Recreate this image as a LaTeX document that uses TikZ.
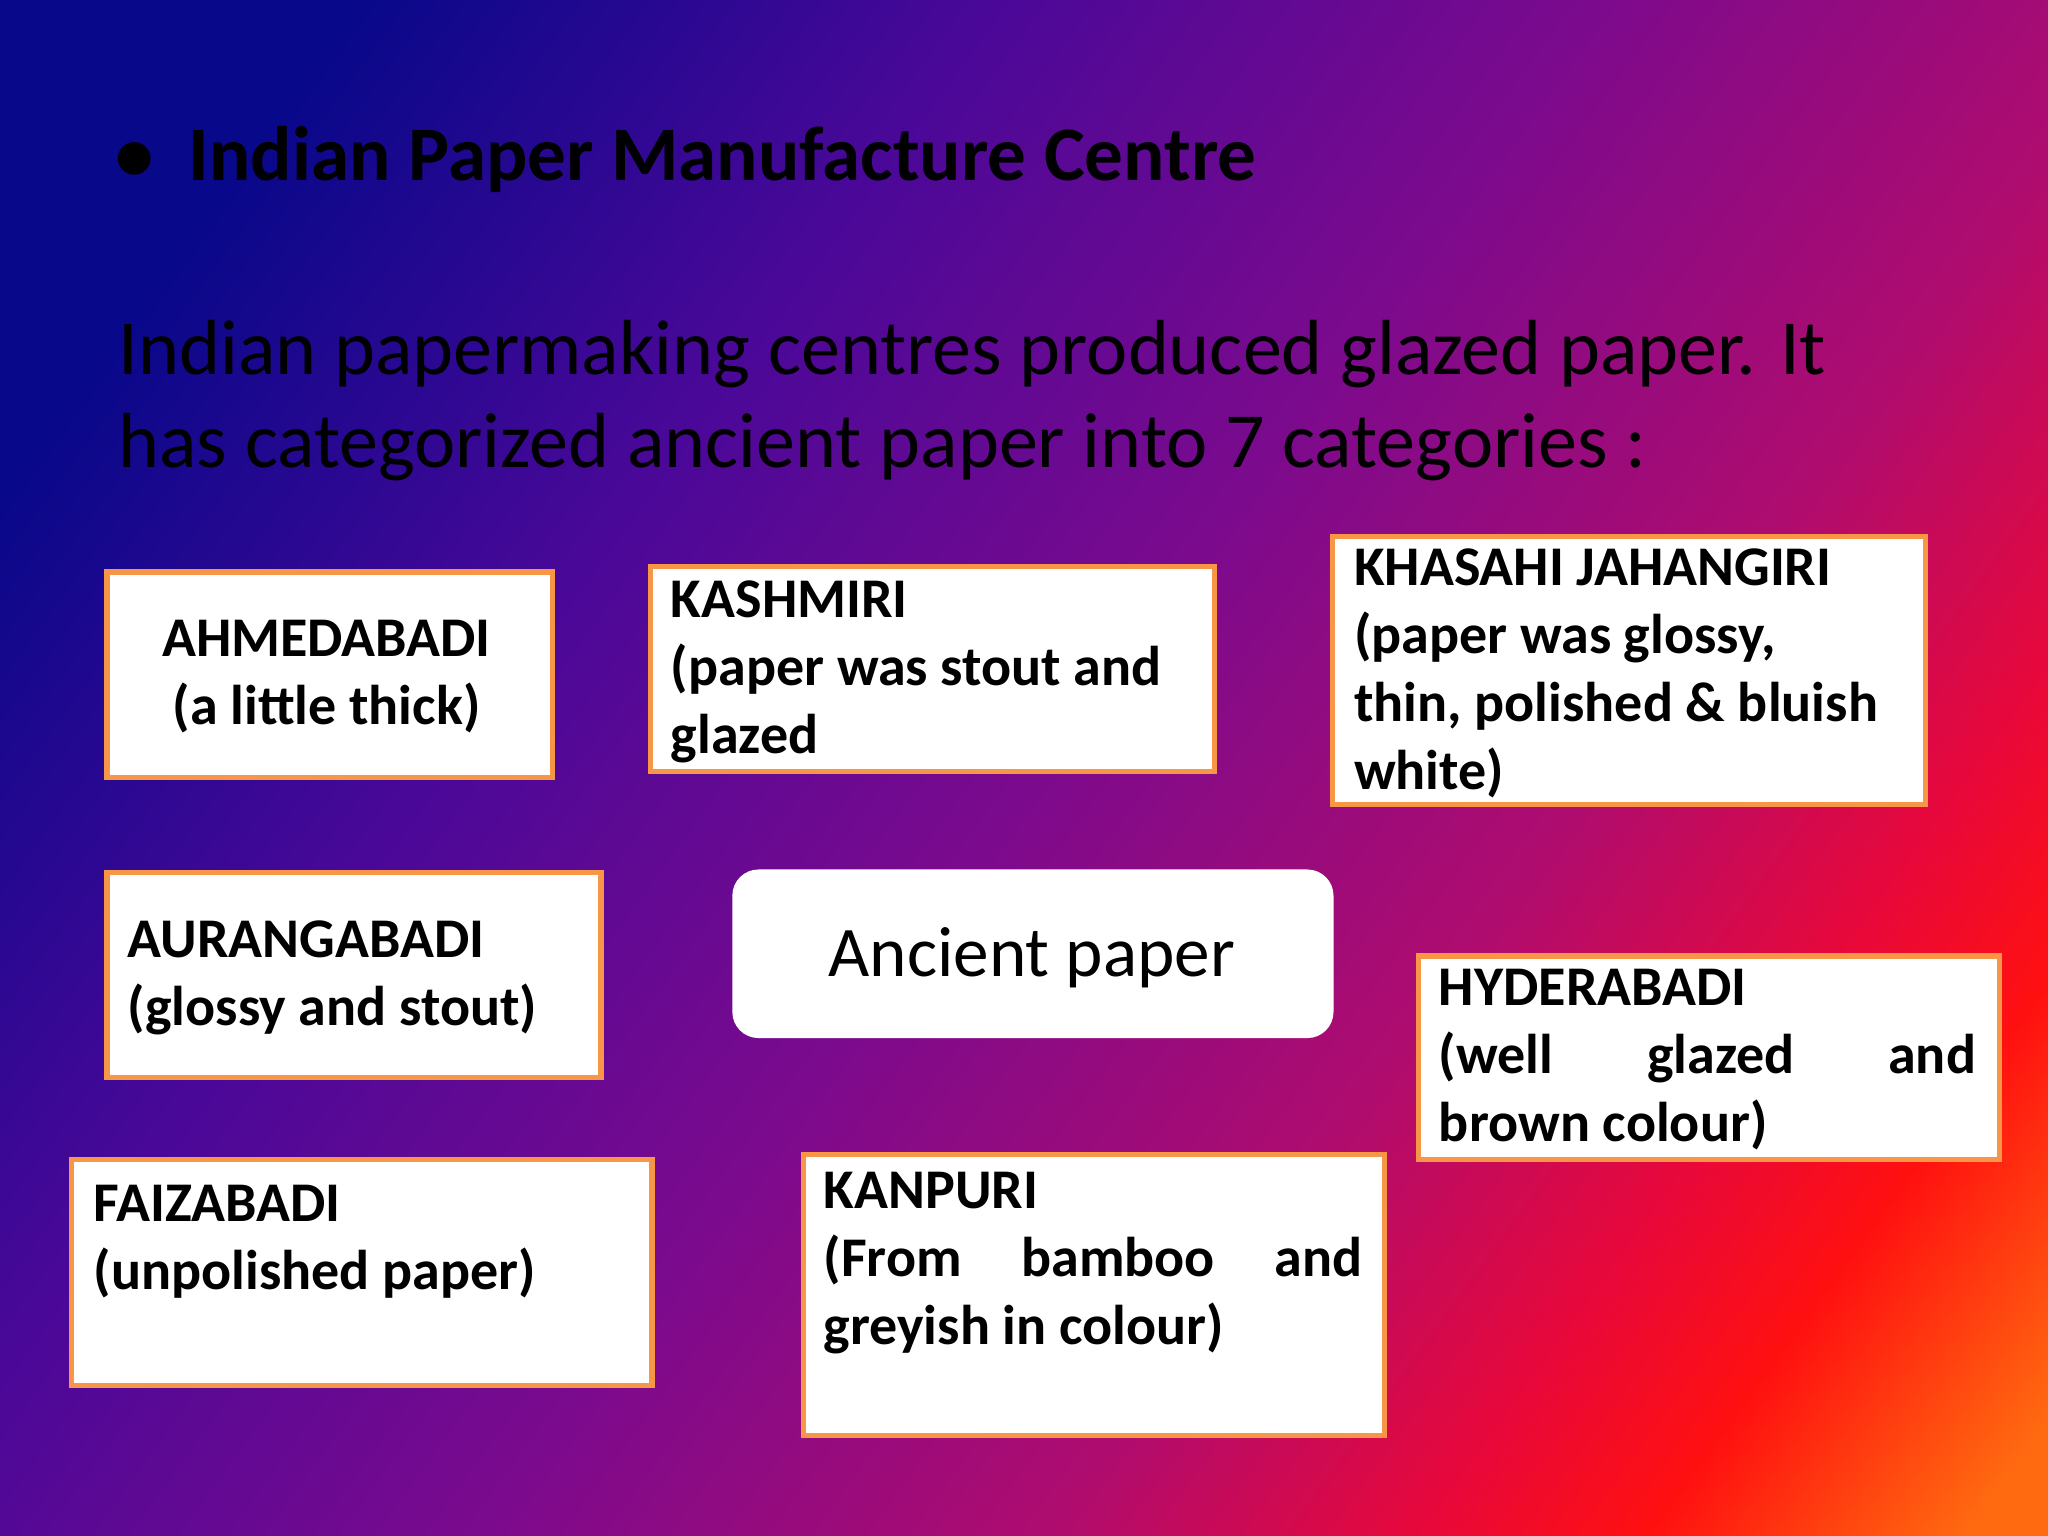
\documentclass[tikz,border=0pt]{standalone}
\usepackage{fontspec}
\setmainfont{Carlito}
\definecolor{c0}{HTML}{08088A}
\definecolor{c1}{HTML}{4A0898}
\definecolor{c2}{HTML}{7A0A8E}
\definecolor{c3}{HTML}{B00C6E}
\definecolor{c4}{HTML}{E8083A}
\definecolor{c5}{HTML}{FF1010}
\definecolor{c6}{HTML}{FF6A10}
\definecolor{bord}{HTML}{F79646}
\pgfdeclarehorizontalshading{bgshade}{100bp}{color(0bp)=(c0); color(23bp)=(c0); color(37bp)=(c1); color(50bp)=(c2); color(63bp)=(c3); color(71bp)=(c4); color(76bp)=(c5); color(83bp)=(c6); color(100bp)=(c6)}
\newcommand{\tl}[1]{\begin{tabular}[t]{@{}l@{}}#1\end{tabular}}
\newcommand{\tc}[1]{\begin{tabular}[t]{@{}c@{}}#1\end{tabular}}
\begin{document}
\begin{tikzpicture}[x=0.01cm,y=-0.01cm,
  boxst/.style={draw=bord,line width=1.1pt,fill=white,anchor=north west,inner sep=0},
  bt/.style={font=\fontsize{12.2}{14.8}\selectfont\bfseries,inner sep=0,anchor=base west},
]
\shade[shading=bgshade,shading angle=-36] (0,0) rectangle (1568,1176);
\useasboundingbox (0,0) rectangle (1568,1176);
\node[inner sep=0,anchor=base west,font=\fontsize{16.8}{20}\selectfont\bfseries] (title) at (88,138) {\textbullet\hspace{0.45em}Indian Paper Manufacture Centre};
\node[inner sep=0,anchor=base west,font=\fontsize{17}{20.2}\selectfont] (body) at (90,287) {\tl{Indian papermaking centres produced glazed paper. It\\has categorized ancient paper into 7 categories :}};
% boxes
\node[boxst,minimum width=3.41cm,minimum height=1.57cm] (b1) at (80,436) {};
\node[boxst,minimum width=4.32cm,minimum height=1.57cm] (b2) at (496,432) {};
\node[boxst,minimum width=4.54cm,minimum height=2.05cm] (b3) at (1018,409) {};
\node[boxst,minimum width=3.78cm,minimum height=1.57cm] (b4) at (80,666) {};
\node[fill=white,rounded corners=0.2cm,anchor=north west,inner sep=0,minimum width=4.6cm,minimum height=1.29cm] (c) at (560,665) {};
\node[boxst,minimum width=4.45cm,minimum height=1.56cm] (b5) at (1084,730) {};
\node[boxst,minimum width=4.44cm,minimum height=1.73cm] (b6) at (53,886) {};
\node[boxst,minimum width=4.45cm,minimum height=2.15cm] (b7) at (613,882) {};
% texts
\node[bt,anchor=base] (t1) at (250,503) {\tc{AHMEDABADI\\(a little thick)}};
\node[bt] (t2) at (513,473) {\tl{KASHMIRI\\(paper was stout and\\glazed}};
\node[bt] (t3) at (1036,448) {\tl{KHASAHI JAHANGIRI\\(paper was glossy,\\thin, polished \& bluish\\white)}};
\node[bt] (t4) at (97,733) {\tl{AURANGABADI\\(glossy and stout)}};
\node[inner sep=0,anchor=base,font=\fontsize{15.5}{18}\selectfont] (tc) at (790,748) {Ancient paper};
\node[bt] (t5) at (1101,770) {\tl{HYDERABADI\\\makebox[4.11cm][s]{(well glazed and}\\brown colour)}};
\node[bt] (t6) at (71,935) {\tl{FAIZABADI\\(unpolished paper)}};
\node[bt] (t7) at (630,925) {\tl{KANPURI\\\makebox[4.12cm][s]{(From bamboo and}\\greyish in colour)}};
\end{tikzpicture}
\end{document}
